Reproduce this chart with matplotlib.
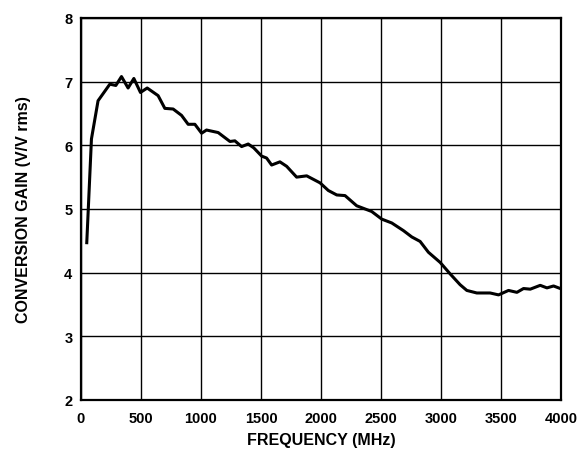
import matplotlib
matplotlib.use('Agg')
import matplotlib.pyplot as plt

# frequency (MHz) and conversion gain (V/V rms)
freq = [50, 89, 144, 242, 292, 339, 394, 442, 497, 553, 644, 700, 769, 839, 894,
        950, 1006, 1047, 1144, 1242, 1283, 1339, 1394, 1440, 1506, 1547, 1589, 1658,
        1714, 1797, 1881, 1992, 2061, 2131, 2200, 2297, 2422, 2506, 2589, 2686, 2756,
        2825, 2894, 2992, 3075, 3158, 3214, 3297, 3408, 3478, 3561, 3631, 3686, 3742,
        3825, 3881, 3936, 3992]
gain = [4.47, 6.10, 6.70, 6.96, 6.94, 7.08, 6.90, 7.05, 6.83, 6.90, 6.78, 6.58, 6.57,
        6.47, 6.33, 6.33, 6.19, 6.24, 6.20, 6.06, 6.07, 5.98, 6.02, 5.96, 5.83, 5.80,
        5.69, 5.74, 5.67, 5.50, 5.52, 5.41, 5.29, 5.22, 5.21, 5.05, 4.96, 4.84, 4.78,
        4.66, 4.56, 4.49, 4.32, 4.16, 3.98, 3.81, 3.72, 3.68, 3.68, 3.65, 3.72, 3.69,
        3.75, 3.74, 3.80, 3.76, 3.79, 3.75]

xticks = [0, 500, 1000, 1500, 2000, 2500, 3000, 3500, 4000]
yticks = [2, 3, 4, 5, 6, 7, 8]

plt.rcParams['font.family'] = ['Liberation Sans', 'DejaVu Sans']
plt.rcParams['font.weight'] = 'bold'

fig = plt.figure(figsize=(5.81, 4.52), dpi=100)
ax = fig.add_axes([0.139, 0.113, 0.827, 0.845])

ax.plot(freq, gain, color='black', linewidth=2.2, solid_joinstyle='round')

ax.set_xlim(0, 4000)
ax.set_ylim(2, 8)
ax.set_xticks(xticks)
ax.set_yticks(yticks)
ax.grid(True, color='black', linewidth=1.0)
ax.tick_params(length=0, labelsize=10.5)
ax.tick_params(axis='x', pad=8)
ax.tick_params(axis='y', pad=6)
for lbl in ax.get_xticklabels() + ax.get_yticklabels():
    lbl.set_fontweight('bold')
for s in ax.spines.values():
    s.set_linewidth(1.6)

ax.set_xlabel('FREQUENCY (MHz)', fontsize=11.5, fontweight='bold', labelpad=5)
ax.set_ylabel('CONVERSION GAIN (V/V rms)', fontsize=11.5, fontweight='bold', labelpad=24)

fig.savefig('out.png', dpi=100)
